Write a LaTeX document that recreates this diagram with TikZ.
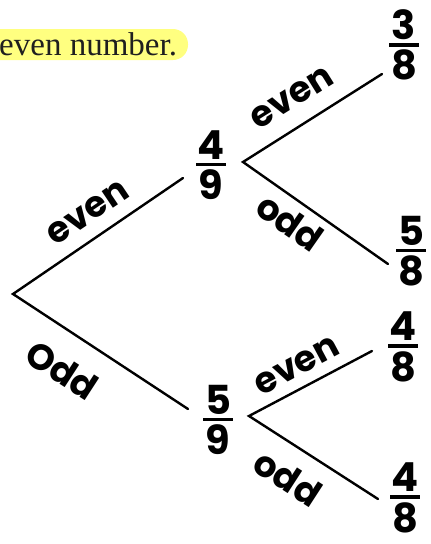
\documentclass[tikz,border=0pt]{standalone}
\usepackage{amsmath}
\usepackage{fontspec}
\setmainfont{Liberation Serif}
\newfontfamily\hand{Poppins}
\usepackage{tikz}
\usetikzlibrary{positioning}
\definecolor{marker}{HTML}{FFFF80}

\tikzset{
  branch/.style={line width=2.4pt, line cap=round},
  word/.style={font=\hand\bfseries\fontsize{36}{38}\selectfont, inner sep=0pt},
  prob/.style={font=\hand\bfseries\fontsize{40}{44}\selectfont, inner sep=0pt},
}
\newcommand{\hfrac}[2]{$\genfrac{}{}{3.5pt}{1}{\makebox[30pt]{#1}}{\makebox[30pt]{#2}}$}

\begin{document}
\begin{tikzpicture}[x=1pt, y=-1pt]
  \useasboundingbox (0,0) rectangle (431,544);

  % Highlighted question text
  \fill[marker, rounded corners=15pt] (-20,29) rectangle (188,60);
  \node[anchor=base west, inner sep=0pt, text=black!88, font=\fontsize{33}{36}\selectfont] (question) at (-1,55) {even number.};

  % Branch points
  \coordinate (root) at (13,294);
  \coordinate (e1) at (183,178);
  \coordinate (o1) at (188,409);
  \coordinate (s1) at (243,162);
  \coordinate (s2) at (249,416);
  \coordinate (ee) at (382,74);
  \coordinate (eo) at (388,264);
  \coordinate (oe) at (372,351);
  \coordinate (oo) at (378,499);

  % Probabilities
  \node[prob] (p49) at (211,165) {\hfrac{4}{9}};
  \node[prob] (p59) at (218,420) {\hfrac{5}{9}};
  \node[prob] (p38) at (404,45) {\hfrac{3}{8}};
  \node[prob] (p58) at (411,251) {\hfrac{5}{8}};
  \node[prob] (p48a) at (403,347) {\hfrac{4}{8}};
  \node[prob] (p48b) at (405,498) {\hfrac{4}{8}};

  % Branches
  \draw[branch] (e1) -- (root) -- (o1);
  \draw[branch] (ee) -- (s1) -- (eo);
  \draw[branch] (oe) -- (s2) -- (oo);

  % Branch labels
  \node[word, rotate=34] (le1) at (88,213) {even};
  \node[word, rotate=-33] (lo1) at (62,370) {Odd};
  \node[word, rotate=32] (le2) at (292,98) {even};
  \node[word, rotate=-35] (lo2) at (290,222) {odd};
  \node[word, rotate=28] (le3) at (297,366) {even};
  \node[word, rotate=-33] (lo3) at (288,478) {odd};
\end{tikzpicture}
\end{document}
